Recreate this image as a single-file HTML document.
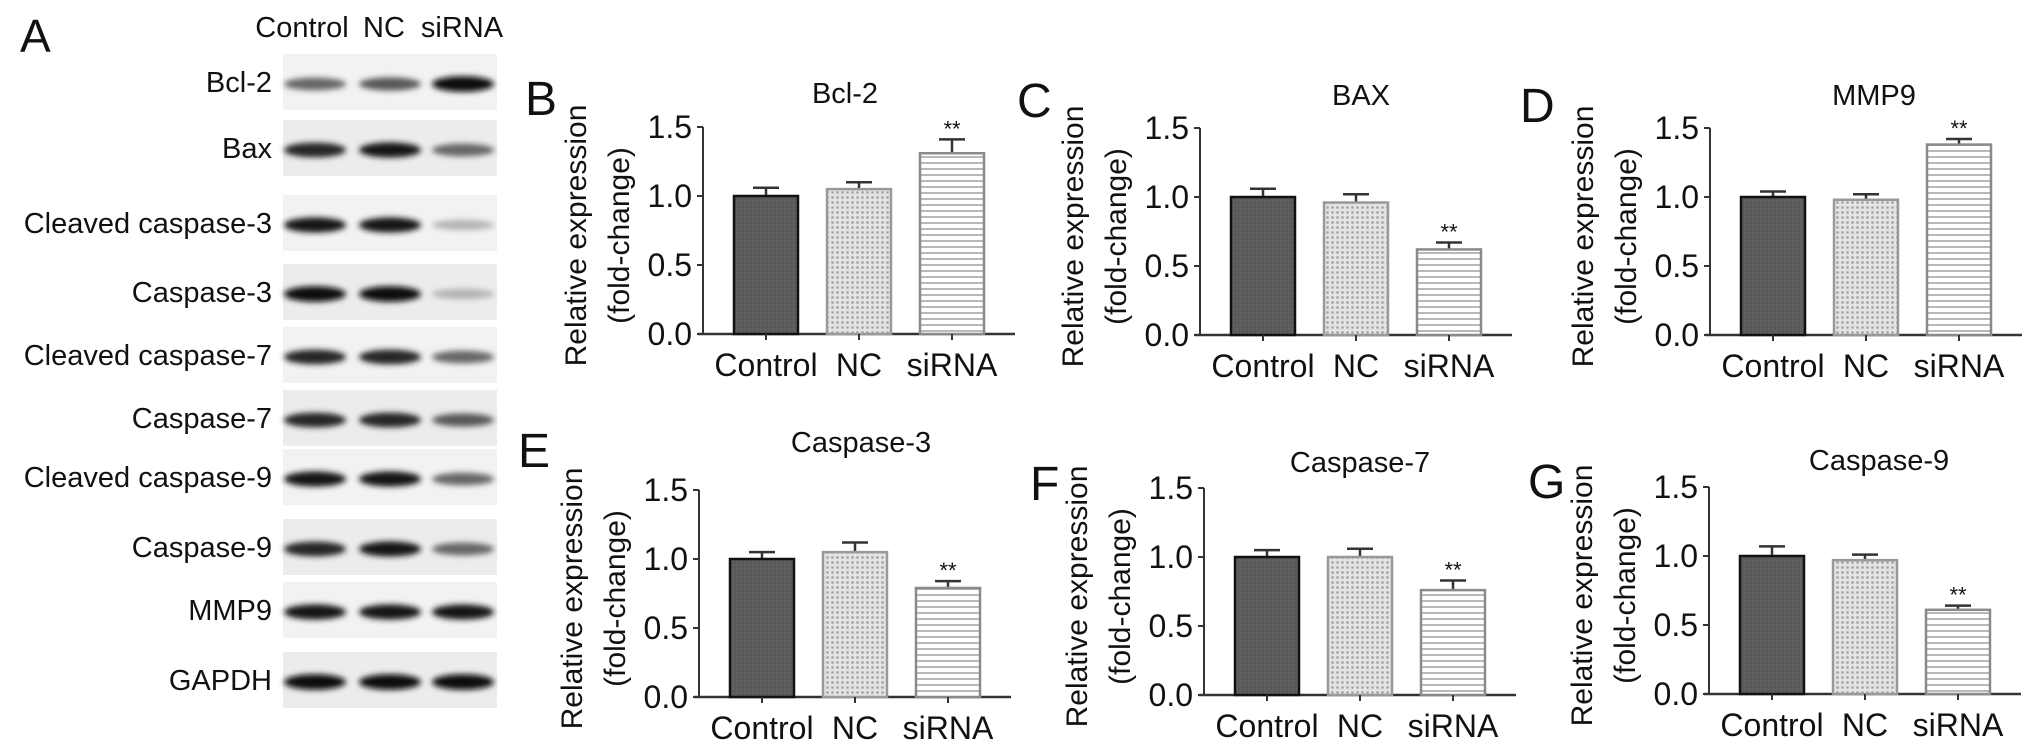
<!DOCTYPE html>
<html><head><meta charset="utf-8">
<style>
html,body{margin:0;padding:0;background:#fff;}
svg{display:block;font-family:"Liberation Sans",Arial,sans-serif;}
</style></head>
<body>
<svg id="fig" width="2032" height="753" viewBox="0 0 2032 753">
<defs>
  <pattern id="pCtrl" width="4" height="4" patternUnits="userSpaceOnUse">
    <rect width="4" height="4" fill="#5a5a5a"/><rect width="2" height="2" fill="#626262"/>
  </pattern>
  <pattern id="pNC" width="5" height="5" patternUnits="userSpaceOnUse">
    <rect width="5" height="5" fill="#e4e4e4"/><circle cx="2.5" cy="2.5" r="1.4" fill="#a8a8a8"/>
  </pattern>
  <pattern id="pSi" width="6" height="6" patternUnits="userSpaceOnUse">
    <rect width="6" height="6" fill="#fff"/><rect y="0" width="6" height="2" fill="#b8b8b8"/>
  </pattern>
  <filter id="blur" x="-20%" y="-100%" width="140%" height="300%"><feGaussianBlur stdDeviation="3"/></filter>
</defs>
<g id="blot"></g>
<g id="charts"></g>
</svg>
<script>
// ---------- data ----------
const categories = ["Control","NC","siRNA"];
const chartTitles = ["Bcl-2","BAX","MMP9","Caspase-3","Caspase-7","Caspase-9"];
const chartLetters = ["B","C","D","E","F","G"];
const valuesB = [1.00,1.05,1.31];  const errB = [0.06,0.05,0.10];
const valuesC = [1.00,0.96,0.62];  const errC = [0.06,0.06,0.05];
const valuesD = [1.00,0.98,1.38];  const errD = [0.04,0.04,0.04];
const valuesE = [1.00,1.05,0.79];  const errE = [0.05,0.07,0.05];
const valuesF = [1.00,1.00,0.76];  const errF = [0.05,0.06,0.07];
const valuesG = [1.00,0.97,0.61];  const errG = [0.07,0.04,0.03];
const signif = ["","","**"];
const yTicks = [0,0.5,1.0,1.5];
const yTickLabels = ["0.0","0.5","1.0","1.5"];
const blotProteins = ["Bcl-2","Bax","Cleaved caspase-3","Caspase-3","Cleaved caspase-7","Caspase-7","Cleaved caspase-9","Caspase-9","MMP9","GAPDH"];
const bandIntensity = [[0.6,0.65,0.95],[0.85,0.9,0.6],[0.9,0.9,0.3],[0.95,0.95,0.3],[0.85,0.85,0.6],[0.85,0.85,0.65],[0.9,0.9,0.6],[0.85,0.9,0.6],[0.9,0.9,0.9],[0.95,0.95,0.95]];

const NS="http://www.w3.org/2000/svg";
function mk(tag,attrs,parent,text){const e=document.createElementNS(NS,tag);for(const k in attrs)e.setAttribute(k,attrs[k]);if(text!==undefined)e.textContent=text;parent.appendChild(e);return e;}

// ---------- blot ----------
const blot=document.getElementById('blot');
const t=mk('text',{x:20,y:52,'font-size':46,fill:'#111'},blot,'A');


const laneHdrX=[302,384,462];
categories.forEach((c,i)=>{
  const h=mk('text',{x:laneHdrX[i],y:37,'font-size':29,'text-anchor':'middle',fill:'#111'},blot,c);
  
  
});
const rowY=[82,148,223,292,355,418,477,547,610,680];
const laneX=[315,390,463];
blotProteins.forEach((p,r)=>{
  const y=rowY[r];
  const bg=mk('rect',{x:283,y:y-28,width:214,height:56,fill:r%2?'#ececec':'#f2f2f2'},blot);
  
  
  const lb=mk('text',{x:272,y:y+10,'font-size':29,'text-anchor':'end',fill:'#111'},blot,p);
  
  
  bandIntensity[r].forEach((v,l)=>{
    const g=Math.round(255*(1-v));
    const b=mk('ellipse',{cx:laneX[l],cy:y+2,rx:31,ry:4+4*v,fill:`rgb(${g},${g},${g})`,filter:'url(#blur)'},blot);
    
    
  });
});

// ---------- charts ----------
const allValues=[valuesB,valuesC,valuesD,valuesE,valuesF,valuesG];
const allErr=[errB,errC,errD,errE,errF,errG];
const axisX=[703,1200,1710,699,1204,1709];
const baseY=[334,335,335,697,695,694];
const titleY=[93,95,95,442,462,460];
const titleDX=[142,161,164,162,156,170];
const letterPos=[[525,115],[1017,117],[1520,122],[518,467],[1030,500],[1528,498]];
const fills=['url(#pCtrl)','url(#pNC)','url(#pSi)'];
const strokes=['#111','#999','#8a8a8a'];
const charts=document.getElementById('charts');
const PX=138, BW=64;
for(let c=0;c<6;c++){
  const g=mk('g',{},charts);
  
  
  const ax=axisX[c], by=baseY[c];
  const yS=v=>by-v*PX;
  const xS=i=>ax+31+i*93;
  const L=mk('text',{x:letterPos[c][0],y:letterPos[c][1],'font-size':48,fill:'#111'},g,chartLetters[c]);
  
  
  const T=mk('text',{x:ax+titleDX[c],y:titleY[c]+10,'font-size':29,'text-anchor':'middle',fill:'#111'},g,chartTitles[c]);
  
  
  const yt=mk('text',{transform:`translate(${ax-117},${(yS(1.5)+by)/2+5}) rotate(-90)`,'font-size':30,'text-anchor':'middle',fill:'#111'},g);
  
  
  mk('tspan',{x:0,dy:0},yt,'Relative expression');
  mk('tspan',{x:0,dy:43},yt,'(fold-change)');
  const ya=mk('line',{x1:ax,y1:yS(1.5),x2:ax,y2:by,stroke:'#333','stroke-width':2},g);
  
  
  yTicks.forEach((v,i)=>{
    const tk=mk('line',{x1:ax-6,y1:yS(v),x2:ax,y2:yS(v),stroke:'#333','stroke-width':2},g);
    
    
    const tl=mk('text',{x:ax-11,y:yS(v)+11,'font-size':32,'text-anchor':'end',fill:'#111'},g,yTickLabels[i]);
    
    
  });
  const xa=mk('line',{x1:ax-5,y1:by,x2:ax+312,y2:by,stroke:'#333','stroke-width':2.5},g);
  
  
  const vals=allValues[c], errs=allErr[c];
  categories.forEach((cat,i)=>{
    const x=xS(i), top=yS(vals[i]), cx=x+BW/2;
    const eb=mk('path',{d:`M${cx},${top} V${yS(vals[i]+errs[i])} M${cx-13},${yS(vals[i]+errs[i])} H${cx+13}`,stroke:'#333','stroke-width':2.5,fill:'none'},g);
    
    
    const bar=mk('rect',{x:x,y:top,width:BW,height:by-top,fill:fills[i],stroke:strokes[i],'stroke-width':2.5},g);
    
    
    const xt=mk('line',{x1:cx,y1:by,x2:cx,y2:by+6,stroke:'#333','stroke-width':2},g);
    
    
    const xl=mk('text',{x:cx,y:by+42,'font-size':32,'text-anchor':'middle',fill:'#111'},g,cat);
    
    
    if(signif[i]){
      const s=mk('text',{x:cx,y:yS(vals[i]+errs[i])-3,'font-size':22,'text-anchor':'middle',fill:'#111'},g,signif[i]);
      
      
    }
  });
}
</script>
</body></html>
